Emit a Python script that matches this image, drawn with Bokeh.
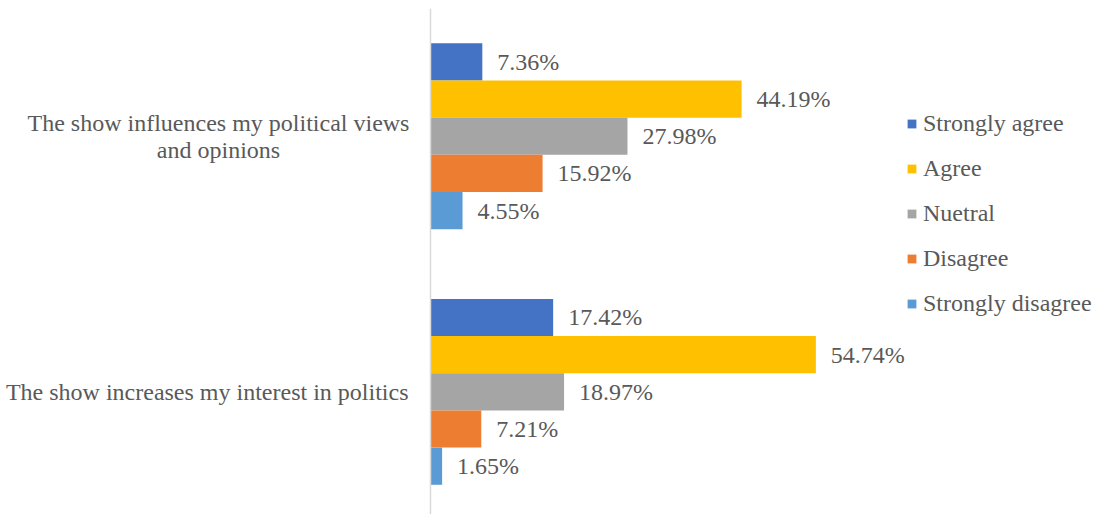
from bokeh.plotting import figure
from bokeh.models import Range1d, Label, Legend, LegendItem, ColumnDataSource, Span
from bokeh.core.properties import value
from bokeh.embed import file_html
from bokeh.resources import INLINE

categories = ["The show influences my political views\nand opinions",
              "The show increases my interest in politics"]
series = ["Strongly agree", "Agree", "Nuetral", "Disagree", "Strongly disagree"]
colors = ["#4472C4", "#FFC000", "#A5A5A5", "#ED7D31", "#5B9BD5"]
influences = [7.36, 44.19, 27.98, 15.92, 4.55]
increases = [17.42, 54.74, 18.97, 7.21, 1.65]

FONT = "Liberation Serif"
TXT = "#595959"
FS = "24px"

cat_pos = [1, 0]          # top, bottom
bar_h = 0.1455
offsets = [2, 1, 0, -1, -2]
PX = 7.04

p = figure(width=1095, height=514, output_backend="svg", toolbar_location=None,
           x_range=Range1d(-430 / PX, 665 / PX), y_range=Range1d(-0.48, 1.5),
           min_border_left=0, min_border_right=0, min_border_top=8, min_border_bottom=0)
p.outline_line_color = None
p.grid.visible = False
p.axis.visible = False
p.background_fill_color = "white"
p.add_layout(Span(location=0, dimension="height", line_color="#D9D9D9", line_width=1.5))

items = []
for s, c, off, v1, v2 in zip(series, colors, offsets, influences, increases):
    vals = [v1, v2]
    ys = [cp + off * bar_h for cp in cat_pos]
    src = ColumnDataSource(dict(y=ys, v=vals, t=[f"{x:.2f}%" for x in vals]))
    r = p.hbar(y="y", left=0, right="v", height=bar_h, color=c, line_color=None, source=src)
    p.text(x="v", y="y", text="t", source=src, x_offset=15, text_align="left",
           text_baseline="middle", text_font=value(FONT), text_font_size=FS, text_color=TXT)
    items.append(LegendItem(label=s, renderers=[r]))

legend = Legend(items=items, location=(906, 197), orientation="vertical",
                label_text_font=FONT, label_text_font_size=FS, label_text_color=TXT,
                glyph_width=11, glyph_height=11, label_standoff=6, spacing=18,
                padding=0, margin=0, border_line_color=None, background_fill_alpha=0,
                label_height=24)
p.add_layout(legend, "center")

# category labels
top_lines = categories[0].split("\n")
p.add_layout(Label(x=218, x_units="screen", y=cat_pos[0], y_offset=13, text=top_lines[0],
                   text_align="center", text_baseline="middle", text_font=FONT,
                   text_font_size=FS, text_color=TXT))
p.add_layout(Label(x=218, x_units="screen", y=cat_pos[0], y_offset=-14, text=top_lines[1],
                   text_align="center", text_baseline="middle", text_font=FONT,
                   text_font_size=FS, text_color=TXT))
p.add_layout(Label(x=408, x_units="screen", y=cat_pos[1], text=categories[1],
                   text_align="right", text_baseline="middle", text_font=FONT,
                   text_font_size=FS, text_color=TXT))

open("out.html", "w").write(file_html(p, INLINE))
